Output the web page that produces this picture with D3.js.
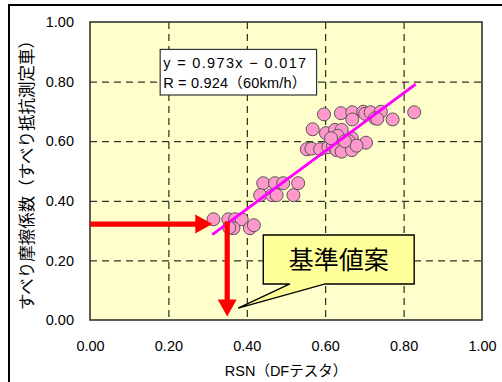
<!DOCTYPE html>
<html>
<head>
<meta charset="utf-8">
<script src="https://cdn.jsdelivr.net/npm/d3@7"></script>
<style>
  html, body { margin: 0; padding: 0; background: #fff; }
  svg { display: block; }
</style>
</head>
<body>
<svg id="chart" width="502" height="382"></svg>
<script>
// RSN (DF tester) vs. skid resistance vehicle friction coefficient
const rsn = [
  0.597, 0.640, 0.669, 0.697, 0.702, 0.716, 0.742, 0.727, 0.733, 0.669, 0.772, 0.827,
  0.568, 0.602, 0.625, 0.642, 0.632, 0.668, 0.660, 0.704, 0.553, 0.565, 0.587, 0.608,
  0.620, 0.629, 0.642, 0.668, 0.680, 0.650, 0.615,
  0.442, 0.472, 0.493, 0.531, 0.434, 0.464, 0.476, 0.519,
  0.315, 0.353, 0.370, 0.387, 0.366, 0.408, 0.418, 0.355
];
const mu = [
  0.690, 0.694, 0.697, 0.699, 0.692, 0.697, 0.699, 0.677, 0.675, 0.673, 0.673, 0.697,
  0.640, 0.627, 0.638, 0.638, 0.618, 0.610, 0.600, 0.595, 0.573, 0.575, 0.573, 0.580,
  0.585, 0.570, 0.565, 0.570, 0.585, 0.600, 0.610,
  0.459, 0.459, 0.459, 0.459, 0.419, 0.419, 0.419, 0.419,
  0.338, 0.338, 0.338, 0.338, 0.308, 0.308, 0.318, 0.310
];

// Regression fit
const slope = 0.973;
const intercept = -0.017;
const fitRange = [0.312, 0.831];
const eqLines = ["y = 0.973x − 0.017", "R = 0.924（60km/h）"];

// Proposed threshold read-off
const thresholdMu = 0.322;
const thresholdRsn = 0.35;
const calloutText = "基準値案";

const xTicks = [0, 0.2, 0.4, 0.6, 0.8, 1.0];
const yTicks = [0, 0.2, 0.4, 0.6, 0.8, 1.0];
const xTitle = "RSN（DFテスタ）";
const yTitle = "すべり摩擦係数（すべり抵抗測定車）";

const svg = d3.select("#chart");
const plot = { left: 90, top: 22, right: 482, bottom: 320 };

const x = d3.scaleLinear().domain([0, 1]).range([plot.left, plot.right]);
const y = d3.scaleLinear().domain([0, 1]).range([plot.bottom, plot.top]);

// outer frame (runs off the right and bottom edges)
svg.append("rect")
  .attr("x", 9).attr("y", 5).attr("width", 520).attr("height", 400)
  .attr("fill", "none").attr("stroke", "#000").attr("stroke-width", 2);

// plot background
svg.append("rect")
  .attr("x", plot.left).attr("y", plot.top)
  .attr("width", plot.right - plot.left).attr("height", plot.bottom - plot.top)
  .attr("fill", "#ffffcc");

// dashed grid
const grid = svg.append("g").attr("stroke", "#000").attr("stroke-width", 1)
  .attr("stroke-dasharray", "7,5");
grid.selectAll("line.gx").data(xTicks.filter(t => t > 0 && t < 1)).join("line")
  .attr("x1", d => x(d) + 0.5).attr("x2", d => x(d) + 0.5)
  .attr("y1", plot.top).attr("y2", plot.bottom);
grid.selectAll("line.gy").data(yTicks.filter(t => t > 0 && t < 1)).join("line")
  .attr("x1", plot.left).attr("x2", plot.right)
  .attr("y1", d => y(d) + 0.5).attr("y2", d => y(d) + 0.5);

// axes (labels only, frame drawn separately)
const fmt = d3.format(".2f");
const xAxis = svg.append("g").attr("transform", `translate(0,${plot.bottom})`)
  .call(d3.axisBottom(x).tickValues(xTicks).tickFormat(fmt).tickSize(0).tickPadding(21));
const yAxis = svg.append("g").attr("transform", `translate(${plot.left},0)`)
  .call(d3.axisLeft(y).tickValues(yTicks).tickFormat(fmt).tickSize(0).tickPadding(16));
[xAxis, yAxis].forEach(a => {
  a.select(".domain").remove();
  a.selectAll("text").attr("font-family", "'Liberation Sans', Arial, sans-serif")
    .attr("font-size", 14.5).attr("fill", "#000");
});

// plot frame
svg.append("rect")
  .attr("x", plot.left).attr("y", plot.top)
  .attr("width", plot.right - plot.left).attr("height", plot.bottom - plot.top)
  .attr("fill", "none").attr("stroke", "#333").attr("stroke-width", 1.6);

// points
svg.append("g").selectAll("circle").data(rsn.map((v, i) => [v, mu[i]])).join("circle")
  .attr("cx", d => x(d[0])).attr("cy", d => y(d[1])).attr("r", 6.5)
  .attr("fill", "#ff99cc").attr("stroke", "#555").attr("stroke-width", 1);

// regression line
svg.append("line")
  .attr("x1", x(fitRange[0])).attr("y1", y(slope * fitRange[0] + intercept))
  .attr("x2", x(fitRange[1])).attr("y2", y(slope * fitRange[1] + intercept))
  .attr("stroke", "#ff00ff").attr("stroke-width", 3);

// read-off arrows
function arrow(x1, y1, x2, y2) {
  const ang = Math.atan2(y2 - y1, x2 - x1);
  const headLen = 17, headHalf = 9.5, shaft = 2.6;
  const bx = x2 - headLen * Math.cos(ang), by = y2 - headLen * Math.sin(ang);
  const nx = -Math.sin(ang), ny = Math.cos(ang);
  const pts = [
    [x1 + nx * shaft, y1 + ny * shaft],
    [bx + nx * shaft, by + ny * shaft],
    [bx + nx * headHalf, by + ny * headHalf],
    [x2, y2],
    [bx - nx * headHalf, by - ny * headHalf],
    [bx - nx * shaft, by - ny * shaft],
    [x1 - nx * shaft, y1 - ny * shaft]
  ];
  svg.append("polygon").attr("points", pts.map(p => p.join(",")).join(" "))
    .attr("fill", "#ff0000");
}
arrow(x(0), y(thresholdMu), x(fitRange[0]), y(thresholdMu));
arrow(x(thresholdRsn), y(thresholdMu) - 2.6, x(thresholdRsn), y(0.012));

// equation box
const eqBox = { x0: 0.179, x1: 0.578, y0: 0.908, y1: 0.755 };
svg.append("rect")
  .attr("x", x(eqBox.x0)).attr("y", y(eqBox.y0))
  .attr("width", x(eqBox.x1) - x(eqBox.x0)).attr("height", y(eqBox.y1) - y(eqBox.y0))
  .attr("fill", "#fff").attr("stroke", "#333").attr("stroke-width", 1.2);
svg.append("g").selectAll("text").data(eqLines).join("text")
  .attr("x", x(eqBox.x0) + 3).attr("y", (d, i) => y(eqBox.y0) + 19 + i * 20)
  .attr("font-family", "'Liberation Sans', 'Noto Sans CJK JP', sans-serif").attr("font-size", 14.5)
  .attr("textLength", 143).attr("lengthAdjust", "spacing")
  .attr("fill", "#000").text(d => d);

// callout with pointer
const call = { x0: 0.442, x1: 0.827, y0: 0.285, y1: 0.121, tipX: 0.378, tipY: 0.040, baseA: 0.51, baseB: 0.600 };
const cpts = [
  [x(call.x0), y(call.y0)], [x(call.x1), y(call.y0)], [x(call.x1), y(call.y1)],
  [x(call.baseB), y(call.y1)], [x(call.tipX), y(call.tipY)], [x(call.baseA), y(call.y1)],
  [x(call.x0), y(call.y1)]
];
svg.append("polygon").attr("points", cpts.map(p => p.join(",")).join(" "))
  .attr("fill", "#ffff99").attr("stroke", "#000").attr("stroke-width", 1.4)
  .attr("stroke-linejoin", "miter");
svg.append("text")
  .attr("x", (x(call.x0) + x(call.x1)) / 2).attr("y", (y(call.y0) + y(call.y1)) / 2 + 9)
  .attr("text-anchor", "middle")
  .attr("font-family", "'Noto Sans CJK JP', sans-serif").attr("font-size", 25)
  .attr("fill", "#000").text(calloutText);

// axis titles
svg.append("text")
  .attr("x", (plot.left + plot.right) / 2 - 0).attr("y", 376)
  .attr("text-anchor", "middle")
  .attr("font-family", "'Liberation Sans', 'Noto Sans CJK JP', sans-serif").attr("font-size", 14.5)
  .attr("fill", "#000").text(xTitle);
svg.append("text")
  .attr("transform", `translate(33,${(plot.top + plot.bottom) / 2}) rotate(-90)`)
  .attr("text-anchor", "middle")
  .attr("font-family", "'Noto Sans CJK JP', sans-serif").attr("font-size", 16.5)
  .attr("fill", "#000").text(yTitle);
</script>
</body>
</html>
